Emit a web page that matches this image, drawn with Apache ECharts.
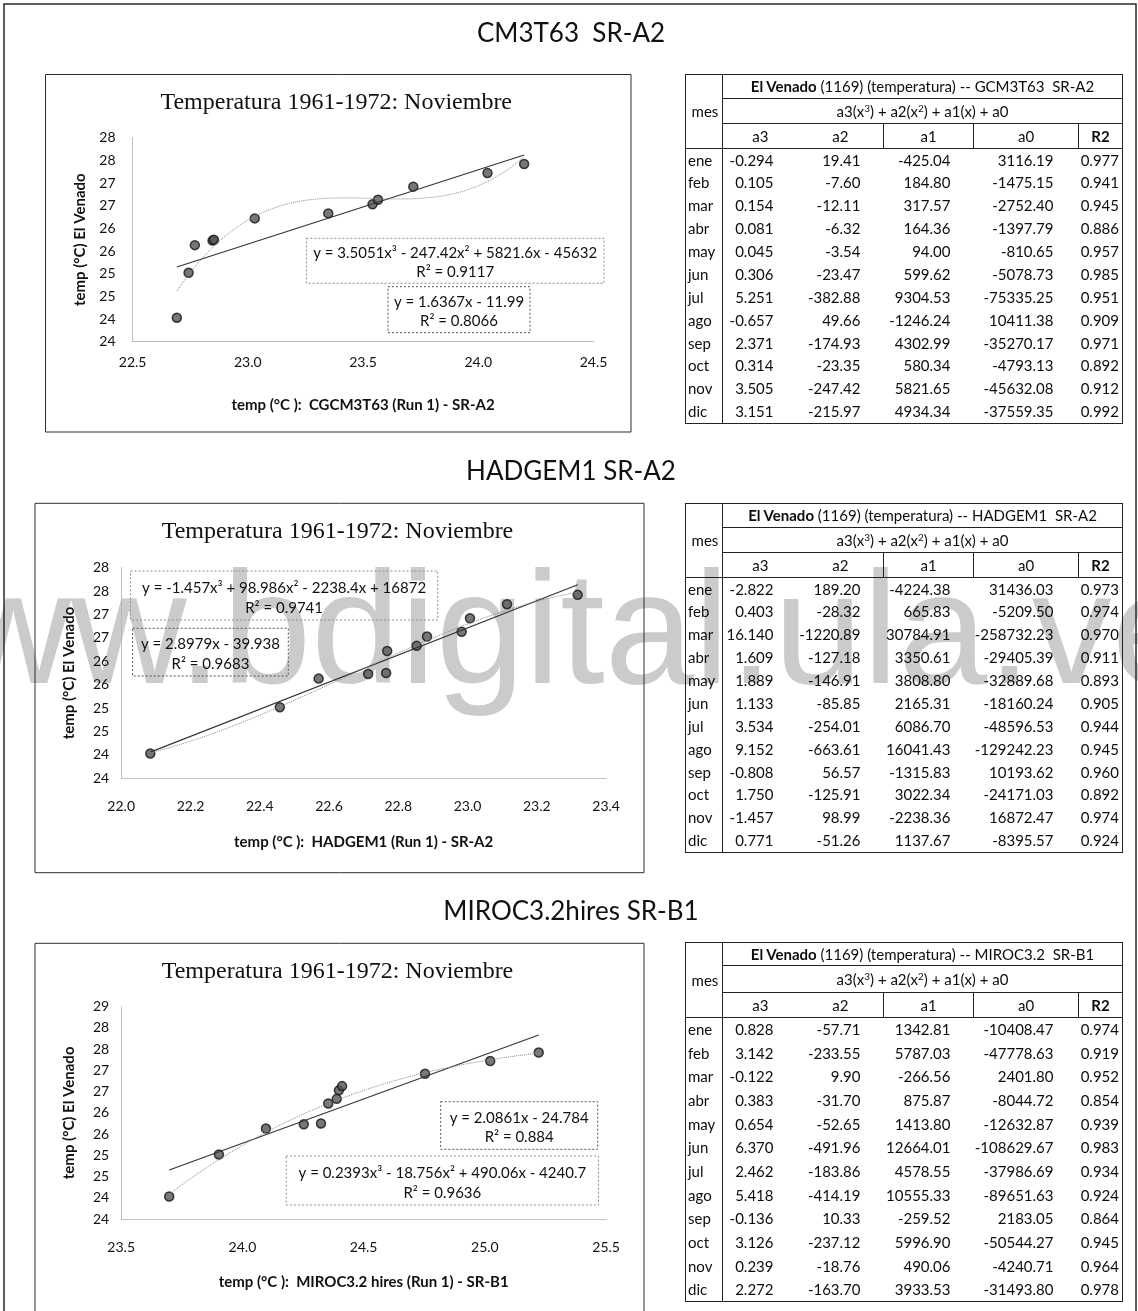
<!DOCTYPE html>
<html>
<head>
<meta charset="utf-8">
<title>El Venado – Temperatura 1961-1972: Noviembre</title>
<script src="https://cdn.jsdelivr.net/npm/echarts@6/dist/echarts.min.js"></script>
<style>
  html, body { margin: 0; padding: 0; background: #fff; }
  #page { position: relative; width: 1138px; height: 1311px; overflow: hidden; background: #fff; }
  #wm {
    position: absolute; left: -160px; top: 548px; z-index: 0;
    font-family: "Liberation Sans", Arial, sans-serif; font-size: 160px; line-height: 160px;
    color: #cbcbcb; white-space: nowrap;
  }
  #chart { position: absolute; left: 0; top: 0; width: 1138px; height: 1311px; z-index: 1; }
  table.coef {
    position: absolute; z-index: 2; border-collapse: collapse; table-layout: fixed;
    font-family: Lato, "Noto Sans", sans-serif; font-size: 15px; color: #0d0d0d;
    border: 1.5px solid #222;
  }
  table.coef td { padding: 0; line-height: 1; white-space: pre; overflow: hidden; }
  table.coef td.mes { text-align: left; padding-left: 2px; border-right: 1.5px solid #222; }
  table.coef tr.h td { text-align: center; border-bottom: 1.5px solid #222; }
  table.coef tr.h3 td + td { border-right: 1px solid #222; }
  table.coef tr.h3 td:last-child { border-right: none; }
  table.coef td.num { text-align: right; padding-right: 24px; }
  table.coef td.r2 { text-align: right; padding-right: 3px; }
  table.coef sup { font-size: 10px; vertical-align: 5px; line-height: 0; }
</style>
</head>
<body>
<div id="page">
  <div id="wm">www.bdigital.ula.ve</div>
  <div id="chart"></div>
  <table class="coef" id="t1"></table>
  <table class="coef" id="t2"></table>
  <table class="coef" id="t3"></table>
</div>
<script>
// ---------------------------------------------------------------------------
// Observed November mean temperature at El Venado (1961-1972), one per year
const elVenadoNov = [24.03, 25.02, 25.63, 25.73, 25.75, 26.22, 26.33, 26.53, 26.63, 26.92, 27.22, 27.42];

// Model November temperature for the same years
const cgcmNov   = [22.692, 22.743, 22.770, 22.847, 22.853, 23.030, 23.349, 23.541, 23.565, 23.718, 24.040, 24.199];
const hadgemNov = [22.084, 22.458, 22.570, 22.713, 22.765, 22.768, 22.853, 22.883, 22.983, 23.007, 23.114, 23.318];
const mirocNov  = [23.698, 23.903, 24.097, 24.253, 24.324, 24.354, 24.389, 24.398, 24.411, 24.753, 25.022, 25.222];

// Trendline equations as printed (linear: [slope, intercept]; cubic: [a3, a2, a1, a0])
const cgcmLinear   = [1.6367, -11.99];
const cgcmLinR2    = 0.8066;
const cgcmCubic    = [3.5051, -247.42, 5821.6, -45632];
const cgcmCubR2    = 0.9117;
const hadgemLinear = [2.8979, -39.938];
const hadgemLinR2  = 0.9683;
const hadgemCubic  = [-1.457, 98.986, -2238.4, 16872];
const hadgemCubR2  = 0.9741;
const mirocLinear  = [2.0861, -24.784];
const mirocLinR2   = 0.884;
const mirocCubic   = [0.2393, -18.756, 490.06, -4240.7];
const mirocCubR2   = 0.9636;

// Monthly cubic coefficients: a3(x^3) + a2(x^2) + a1(x) + a0
const meses = ['ene', 'feb', 'mar', 'abr', 'may', 'jun', 'jul', 'ago', 'sep', 'oct', 'nov', 'dic'];

const cgcmA3 = [-0.294, 0.105, 0.154, 0.081, 0.045, 0.306, 5.251, -0.657, 2.371, 0.314, 3.505, 3.151];
const cgcmA2 = [19.41, -7.60, -12.11, -6.32, -3.54, -23.47, -382.88, 49.66, -174.93, -23.35, -247.42, -215.97];
const cgcmA1 = [-425.04, 184.80, 317.57, 164.36, 94.00, 599.62, 9304.53, -1246.24, 4302.99, 580.34, 5821.65, 4934.34];
const cgcmA0 = [3116.19, -1475.15, -2752.40, -1397.79, -810.65, -5078.73, -75335.25, 10411.38, -35270.17, -4793.13, -45632.08, -37559.35];
const cgcmR2 = [0.977, 0.941, 0.945, 0.886, 0.957, 0.985, 0.951, 0.909, 0.971, 0.892, 0.912, 0.992];

const hadgemA3 = [-2.822, 0.403, 16.140, 1.609, 1.889, 1.133, 3.534, 9.152, -0.808, 1.750, -1.457, 0.771];
const hadgemA2 = [189.20, -28.32, -1220.89, -127.18, -146.91, -85.85, -254.01, -663.61, 56.57, -125.91, 98.99, -51.26];
const hadgemA1 = [-4224.38, 665.83, 30784.91, 3350.61, 3808.80, 2165.31, 6086.70, 16041.43, -1315.83, 3022.34, -2238.36, 1137.67];
const hadgemA0 = [31436.03, -5209.50, -258732.23, -29405.39, -32889.68, -18160.24, -48596.53, -129242.23, 10193.62, -24171.03, 16872.47, -8395.57];
const hadgemR2 = [0.973, 0.974, 0.970, 0.911, 0.893, 0.905, 0.944, 0.945, 0.960, 0.892, 0.974, 0.924];

const mirocA3 = [0.828, 3.142, -0.122, 0.383, 0.654, 6.370, 2.462, 5.418, -0.136, 3.126, 0.239, 2.272];
const mirocA2 = [-57.71, -233.55, 9.90, -31.70, -52.65, -491.96, -183.86, -414.19, 10.33, -237.12, -18.76, -163.70];
const mirocA1 = [1342.81, 5787.03, -266.56, 875.87, 1413.80, 12664.01, 4578.55, 10555.33, -259.52, 5996.90, 490.06, 3933.53];
const mirocA0 = [-10408.47, -47778.63, 2401.80, -8044.72, -12632.87, -108629.67, -37986.69, -89651.63, 2183.05, -50544.27, -4240.71, -31493.80];
const mirocR2 = [0.974, 0.919, 0.952, 0.854, 0.939, 0.983, 0.934, 0.924, 0.864, 0.945, 0.964, 0.978];

// ---------------------------------------------------------------------------
// Coefficient tables
function buildTable(id, model, a3, a2, a1, a0, r2, hRows, rowH) {
  const t = document.getElementById(id);
  let html = '<colgroup><col style="width:37px"><col style="width:75px"><col style="width:86px">' +
             '<col style="width:90px"><col style="width:105px"><col style="width:44px"></colgroup>';
  html += `<tr class="h" style="height:${hRows[0]}px"><td class="mes" rowspan="3">mes</td>` +
          `<td colspan="5"><b>El Venado</b> (1169) (temperatura) -- ${model}</td></tr>`;
  html += `<tr class="h" style="height:${hRows[1]}px"><td colspan="5">a3(x<sup>3</sup>) + a2(x<sup>2</sup>) + a1(x) + a0</td></tr>`;
  html += `<tr class="h h3" style="height:${hRows[2]}px"><td>a3</td><td>a2</td><td>a1</td><td>a0</td><td><b>R2</b></td></tr>`;
  for (let i = 0; i < meses.length; i++) {
    html += `<tr style="height:${rowH}px"><td class="mes">${meses[i]}</td>` +
            `<td class="num">${a3[i].toFixed(3)}</td><td class="num" style="padding-right:23px">${a2[i].toFixed(2)}</td>` +
            `<td class="num" style="padding-right:23px">${a1[i].toFixed(2)}</td><td class="num" style="padding-right:25px">${a0[i].toFixed(2)}</td>` +
            `<td class="r2">${r2[i].toFixed(3)}</td></tr>`;
  }
  t.innerHTML = html;
}

const t1 = document.getElementById('t1'); t1.style.left = '685px'; t1.style.top = '74px';
const t2 = document.getElementById('t2'); t2.style.left = '685px'; t2.style.top = '503px';
const t3 = document.getElementById('t3'); t3.style.left = '685px'; t3.style.top = '942px';
buildTable('t1', 'GCM3T63  SR-A2', cgcmA3, cgcmA2, cgcmA1, cgcmA0, cgcmR2, [24, 25, 25], 22.9);
buildTable('t2', 'HADGEM1  SR-A2', hadgemA3, hadgemA2, hadgemA1, hadgemA0, hadgemR2, [24, 25, 25], 22.9);
buildTable('t3', 'MIROC3.2  SR-B1', mirocA3, mirocA2, mirocA1, mirocA0, mirocR2, [23, 27, 25], 23.7);

// ---------------------------------------------------------------------------
// Trendline helpers
// Least-squares polynomial through the points (x centred for numerical stability);
// the printed cubic coefficients are rounded too coarsely to be evaluated directly.
function polyFit(xs, ys, deg) {
  const n = xs.length, N = deg + 1;
  const mean = xs.reduce((a, b) => a + b, 0) / n;
  const A = Array.from({ length: N }, () => new Array(N + 1).fill(0));
  for (let k = 0; k < n; k++) {
    const t = xs[k] - mean;
    const p = [];
    for (let i = 0; i < N; i++) p.push(Math.pow(t, i));
    for (let i = 0; i < N; i++) {
      for (let j = 0; j < N; j++) A[i][j] += p[i] * p[j];
      A[i][N] += p[i] * ys[k];
    }
  }
  for (let c = 0; c < N; c++) {
    let piv = c;
    for (let r = c + 1; r < N; r++) if (Math.abs(A[r][c]) > Math.abs(A[piv][c])) piv = r;
    [A[c], A[piv]] = [A[piv], A[c]];
    for (let r = 0; r < N; r++) {
      if (r === c) continue;
      const f = A[r][c] / A[c][c];
      for (let j = c; j <= N; j++) A[r][j] -= f * A[c][j];
    }
  }
  const coef = A.map((row, i) => row[N] / row[i]);
  return x => { const t = x - mean; let s = 0; for (let i = N - 1; i >= 0; i--) s = s * t + coef[i]; return s; };
}

function curveData(xs, ys) {
  const f = polyFit(xs, ys, 3);
  const lo = Math.min(...xs), hi = Math.max(...xs), steps = 120, out = [];
  for (let i = 0; i <= steps; i++) { const x = lo + (hi - lo) * i / steps; out.push([x, f(x)]); }
  return out;
}

function lineData(xs, lin) {
  const lo = Math.min(...xs), hi = Math.max(...xs);
  return [[lo, lin[0] * lo + lin[1]], [hi, lin[0] * hi + lin[1]]];
}

function num(v) { return String(Math.abs(v)); }
function sgn(v) { return v < 0 ? ' - ' : ' + '; }
function linText(l) { return `y = ${l[0]}x${sgn(l[1])}${num(l[1])}`; }
function cubText(c) {
  return `y = ${c[0]}x³${sgn(c[1])}${num(c[1])}x²${sgn(c[2])}${num(c[2])}x${sgn(c[3])}${num(c[3])}`;
}

// ---------------------------------------------------------------------------
// Panel layout
const panels = [
  {
    xs: cgcmNov, lin: cgcmLinear, linR2: cgcmLinR2, cub: cgcmCubic, cubR2: cgcmCubR2,
    xMin: 22.5, xMax: 24.5, xStep: 0.5, yMax: 28,
    xName: 'temp (°C ):  CGCM3T63 (Run 1) - SR-A2',
    heading: 'CM3T63  SR-A2', headingY: 34,
    grid: { left: 132.6, top: 137.7, width: 460.9, height: 204 },
    box: [45.5, 74.5, 585.5, 357.5], titleY: 103,
    xLabelMargin: 14, yLabelMargin: 17,
    cubBox: [306.4, 238.3, 297.6, 45], linBox: [388, 286.7, 142, 46]
  },
  {
    xs: hadgemNov, lin: hadgemLinear, linR2: hadgemLinR2, cub: hadgemCubic, cubR2: hadgemCubR2,
    xMin: 22.0, xMax: 23.4, xStep: 0.2, yMax: 28,
    xName: 'temp (°C ):  HADGEM1 (Run 1) - SR-A2',
    heading: 'HADGEM1 SR-A2', headingY: 472,
    grid: { left: 121.2, top: 567.7, width: 484.9, height: 210.6 },
    box: [35, 503.3, 609, 369.4], titleY: 531.7,
    xLabelMargin: 21, yLabelMargin: 12,
    cubBox: [130.5, 571, 307.2, 49], linBox: [132.6, 628.3, 155.7, 47.7]
  },
  {
    xs: mirocNov, lin: mirocLinear, linR2: mirocLinR2, cub: mirocCubic, cubR2: mirocCubR2,
    xMin: 23.5, xMax: 25.5, xStep: 0.5, yMax: 28.5,
    xName: 'temp (°C ):  MIROC3.2 hires (Run 1) - SR-B1',
    heading: 'MIROC3.2hires SR-B1', headingY: 912,
    grid: { left: 121.2, top: 1006.7, width: 484.9, height: 212.3 },
    box: [35, 943.3, 609, 420], titleY: 971.7,
    xLabelMargin: 21, yLabelMargin: 12,
    cubBox: [286.2, 1156, 312.3, 49], linBox: [440.7, 1101.7, 157, 47.6]
  }
];

const FONT = 'Lato, "Noto Sans", sans-serif';
const grids = [], xAxes = [], yAxes = [], series = [], graphics = [];

graphics.push({
  type: 'rect', silent: true, z: 1,
  shape: { x: 4, y: 4, width: 1132, height: 1340 },
  style: { fill: 'none', stroke: '#2a2a2a', lineWidth: 1.5 }
});

panels.forEach((p, i) => {
  grids.push(Object.assign({ containLabel: false }, p.grid));
  xAxes.push({
    type: 'value', gridIndex: i, min: p.xMin, max: p.xMax, interval: p.xStep,
    axisLine: { show: true, lineStyle: { color: '#b5b5b5', type: 'dotted', width: 1 } },
    axisTick: { show: false }, splitLine: { show: false },
    axisLabel: { margin: p.xLabelMargin, fontFamily: FONT, fontSize: 14, color: '#111',
                 formatter: v => v.toFixed(1) },
    name: p.xName, nameLocation: 'middle', nameGap: 56,
    nameTextStyle: { fontFamily: FONT, fontSize: 15, fontWeight: 'bold', color: '#111' }
  });
  yAxes.push({
    type: 'value', gridIndex: i, min: 23.5, max: p.yMax, interval: 0.5,
    axisLine: { show: true, lineStyle: { color: '#b5b5b5', type: 'dotted', width: 1 } },
    axisTick: { show: false }, splitLine: { show: false },
    axisLabel: { margin: p.yLabelMargin, fontFamily: FONT, fontSize: 14, color: '#111',
                 formatter: v => String(Math.round(v)) },
    name: 'temp (°C) El Venado', nameLocation: 'middle', nameGap: 45,
    nameTextStyle: { fontFamily: FONT, fontSize: 15, fontWeight: 'bold', color: '#111' }
  });

  const pts = p.xs.map((x, k) => [x, elVenadoNov[k]]);
  series.push({
    type: 'scatter', xAxisIndex: i, yAxisIndex: i, data: pts, symbol: 'circle', symbolSize: 9,
    itemStyle: { color: '#555', borderColor: '#151515', borderWidth: 1.5 }, z: 3
  });
  series.push({
    type: 'line', xAxisIndex: i, yAxisIndex: i, data: lineData(p.xs, p.lin), showSymbol: false,
    lineStyle: { color: '#333', width: 1.1 }, z: 4, silent: true
  });
  series.push({
    type: 'line', xAxisIndex: i, yAxisIndex: i, data: curveData(p.xs, elVenadoNov), showSymbol: false,
    lineStyle: { color: '#858585', width: 1, type: 'dotted' }, z: 4, silent: true
  });

  // frame, section heading and chart title
  graphics.push({
    type: 'rect', silent: true, z: 1,
    shape: { x: p.box[0], y: p.box[1], width: p.box[2], height: p.box[3] },
    style: { fill: 'none', stroke: '#2e2e2e', lineWidth: 1 }
  });
  graphics.push({
    type: 'text', silent: true, x: 571, y: p.headingY,
    style: { text: p.heading, font: '26px ' + FONT, fill: '#111', align: 'center', verticalAlign: 'middle' }
  });
  graphics.push({
    type: 'text', silent: true, x: p.box[0] + p.box[2] / 2 - 2, y: p.titleY,
    style: { text: 'Temperatura 1961-1972: Noviembre', font: '24px "Liberation Serif", "Times New Roman", serif',
             fill: '#111', align: 'center', verticalAlign: 'middle' }
  });

  // equation labels of both trendlines
  [[p.cubBox, cubText(p.cub), p.cubR2, '#8c8c8c'], [p.linBox, linText(p.lin), p.linR2, '#555']].forEach(([b, eq, r2, stroke]) => {
    graphics.push({
      type: 'rect', silent: true, z: 2,
      shape: { x: b[0], y: b[1], width: b[2], height: b[3] },
      style: { fill: 'none', stroke: stroke, lineWidth: 1, lineDash: [2, 2] }
    });
    graphics.push({
      type: 'text', silent: true, z: 2, x: b[0] + b[2] / 2, y: b[1] + b[3] * 0.34,
      style: { text: eq, font: '15px ' + FONT, fill: '#111', align: 'center', verticalAlign: 'middle' }
    });
    graphics.push({
      type: 'text', silent: true, z: 2, x: b[0] + b[2] / 2, y: b[1] + b[3] * 0.75,
      style: { text: 'R² = ' + r2, font: '15px ' + FONT, fill: '#111', align: 'center', verticalAlign: 'middle' }
    });
  });
});

const chart = echarts.init(document.getElementById('chart'), null, { renderer: 'canvas' });
chart.setOption({
  backgroundColor: 'transparent',
  animation: false,
  grid: grids,
  xAxis: xAxes,
  yAxis: yAxes,
  series: series,
  graphic: { elements: graphics }
});
</script>
</body>
</html>
